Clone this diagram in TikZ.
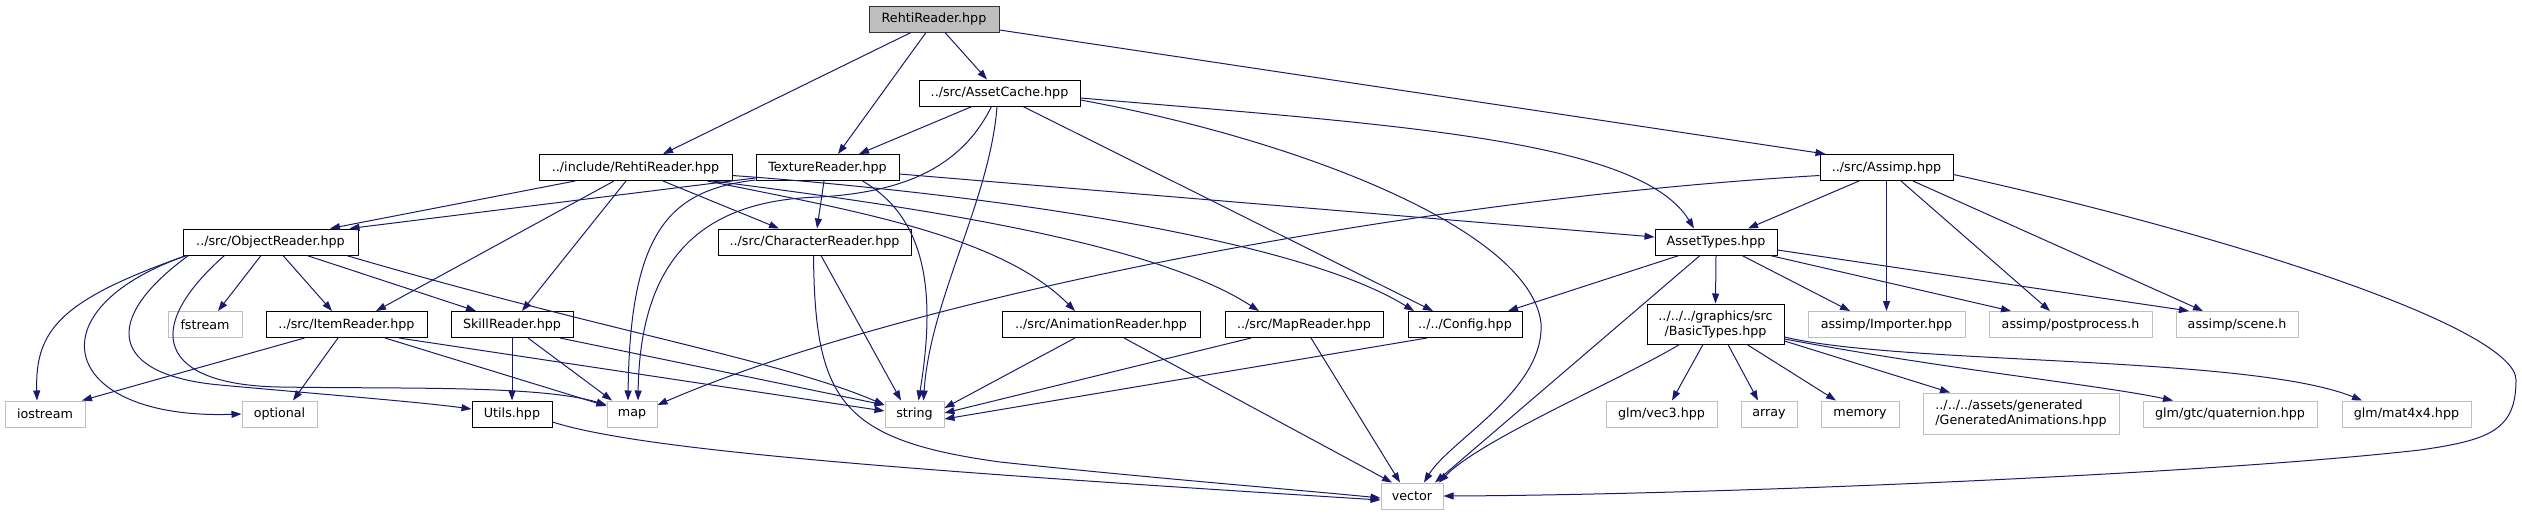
\documentclass[tikz,border=0pt]{standalone}
\usepackage{fontspec}
\usetikzlibrary{arrows.meta}
\newfontfamily\dvs{DejaVu Sans}
\definecolor{edgeblue}{HTML}{191970}
\definecolor{extgray}{HTML}{BFBFBF}
\definecolor{rootgray}{HTML}{BFBFBF}
\tikzset{
  box/.style={draw=black, fill=white, line width=1pt, inner sep=0pt, minimum height=26pt,
    font=\dvs\fontsize{12.7pt}{15pt}\selectfont},
  ext/.style={box, draw=extgray},
  root/.style={box, fill=rootgray, draw=black!80},
  edge/.style={draw=edgeblue, line width=1pt, -{Triangle[length=10pt,width=7pt]}}
}
\begin{document}
\begin{tikzpicture}[x={(1pt,0)}, y={(0,-1pt)}]
\useasboundingbox (0,0) rectangle (2522,515);
% nodes
\node[root, minimum width=130pt] (A) at (934,19) {RehtiReader.hpp};
\node[box, minimum width=161pt] (B) at (999.5,93) {../src/AssetCache.hpp};
\node[box, minimum width=193pt] (C) at (635.5,167.5) {../include/RehtiReader.hpp};
\node[box, minimum width=143pt] (D) at (827.5,167.5) {TextureReader.hpp};
\node[box, minimum width=133pt] (E) at (1886.5,167.5) {../src/Assimp.hpp};
\node[box, minimum width=175pt] (F) at (270.5,242) {../src/ObjectReader.hpp};
\node[box, minimum width=193pt] (G) at (814.5,242) {../src/CharacterReader.hpp};
\node[box, minimum width=122pt] (H) at (1716,242) {AssetTypes.hpp};
\node[ext, minimum width=74pt] (I) at (205,324.5) {fstream};
\node[box, minimum width=161pt] (J) at (346.5,324.5) {../src/ItemReader.hpp};
\node[box, minimum width=122pt] (K) at (512,324.5) {SkillReader.hpp};
\node[box, minimum width=198pt] (L) at (1101,324.5) {../src/AnimationReader.hpp};
\node[box, minimum width=158pt] (M) at (1304,324.5) {../src/MapReader.hpp};
\node[box, minimum width=114pt] (N) at (1465,324.5) {../../Config.hpp};
\node[box, minimum width=137pt, minimum height=40pt, align=center] (O) at (1715.5,324) {../../../graphics/src\\/BasicTypes.hpp};
\node[ext, minimum width=157pt] (P) at (1886.5,324.5) {assimp/Importer.hpp};
\node[ext, minimum width=163pt] (Q) at (2070.5,324.5) {assimp/postprocess.h};
\node[ext, minimum width=122pt] (R) at (2237,324.5) {assimp/scene.h};
\node[ext, minimum width=80pt] (S) at (45,414) {iostream};
\node[ext, minimum width=75pt] (T) at (279.5,414) {optional};
\node[box, minimum width=80pt] (U) at (512,414) {Utils.hpp};
\node[ext, minimum width=50pt] (V) at (632,414) {map};
\node[ext, minimum width=59pt] (W) at (914.5,414) {string};
\node[ext, minimum width=111pt] (X) at (1661.5,414) {glm/vec3.hpp};
\node[ext, minimum width=56pt] (Y) at (1769,414) {array};
\node[ext, minimum width=78pt] (Z) at (1860,414) {memory};
\node[ext, minimum width=196pt, minimum height=41pt, align=left] (AA) at (2021,413.5) {../../../assets/generated\\/GeneratedAnimations.hpp};
\node[ext, minimum width=174pt] (AB) at (2230,414) {glm/gtc/quaternion.hpp};
\node[ext, minimum width=129pt] (AC) at (2406.5,414) {glm/mat4x4.hpp};
\node[ext, minimum width=62pt] (AD) at (1412,496) {vector};
% edges from RehtiReader.hpp
\draw[edge] ([xshift=-23pt]A.south) -- ([xshift=27.5pt]C.north);
\draw[edge] ([xshift=-8pt]A.south) -- ([xshift=10.5pt]D.north);
\draw[edge] ([xshift=11pt]A.south) -- ([xshift=-12.5pt]B.north);
\draw[edge] ([yshift=-11pt]A.east) -- ([xshift=-61pt]E.north);
% AssetCache
\draw[edge] ([xshift=-27.5pt]B.south) -- ([xshift=31.5pt]D.north);
\draw[edge] ([xshift=-8pt]B.south) .. controls (960,170) and (900,192) .. (820,197) .. controls (700,200) and (640,260) .. ([xshift=6pt]V.north);
\draw[edge] ([xshift=-2.5pt]B.south) .. controls (990,200) and (930,300) .. ([xshift=9pt]W.north);
\draw[edge] ([xshift=23.5pt]B.south) -- ([xshift=-32pt]N.north);
\draw[edge] ([yshift=-5pt]B.east) .. controls (1400,125) and (1640,140) .. ([xshift=-22pt]H.north);
\draw[edge] ([yshift=-7pt]B.east) .. controls (1300,140) and (1530,230) .. (1541,323) .. controls (1545,390) and (1450,440) .. ([xshift=12pt]AD.north);
% include/RehtiReader
\draw[edge] ([xshift=-60.5pt]C.south) -- ([xshift=59.5pt]F.north);
\draw[edge] ([xshift=-21.5pt]C.south) -- ([xshift=29.5pt]J.north);
\draw[edge] ([xshift=-9.5pt]C.south) -- ([xshift=10pt]K.north);
\draw[edge] ([xshift=27.5pt]C.south) -- ([xshift=-35.5pt]G.north);
\draw[edge] ([xshift=72pt]C.south) .. controls (850,210) and (1000,235) .. ([xshift=-26pt]L.north);
\draw[edge] ([xshift=77pt]C.south) .. controls (900,205) and (1150,240) .. ([xshift=-45pt]M.north);
\draw[edge] ([yshift=-8pt]C.east) .. controls (1000,195) and (1300,240) .. ([xshift=-51pt]N.north);
% TextureReader
\draw[edge] ([yshift=3pt]D.south west) -- ([xshift=79pt]F.north);
\draw[edge] ([xshift=-3.5pt]D.south) -- ([xshift=2.5pt]G.north);
\draw[edge] ([yshift=-6.5pt]D.east) -- ([yshift=5pt]H.west);
\draw[edge] ([xshift=35pt]D.south) .. controls (930,220) and (935,300) .. ([xshift=4pt]W.north);
\draw[edge] ([yshift=1pt]D.south west) .. controls (670,190) and (630,230) .. ([xshift=-4pt]V.north);
% Assimp
\draw[edge] ([xshift=-27.5pt]E.south) -- ([xshift=32pt]H.north);
\draw[edge] (E.south) -- (P.north);
\draw[edge] ([xshift=14.5pt]E.south) -- ([xshift=-20.5pt]Q.north);
\draw[edge] ([xshift=26.5pt]E.south) -- ([xshift=-34pt]R.north);
\draw[edge] ([yshift=-8pt]E.west) .. controls (1400,200) and (900,300) .. ([yshift=9pt]V.east);
\draw[edge] ([yshift=-7pt]E.east) .. controls (2250,240) and (2516,330) .. (2516,380) .. controls (2516,430) and (2490,440) .. (2420,450) .. controls (2200,475) and (1700,495) .. (AD.east);
% ObjectReader
\draw[edge] ([xshift=-9.5pt]F.south) -- ([xshift=13pt]I.north);
\draw[edge] ([xshift=12.5pt]F.south) -- ([xshift=-14.5pt]J.north);
\draw[edge] ([xshift=36.5pt]F.south) -- ([xshift=-36pt]K.north);
\draw[edge] ([xshift=76pt]F.south) .. controls (600,330) and (780,360) .. ([yshift=9pt]W.west);
\draw[edge] ([xshift=-84pt]F.south) .. controls (60,300) and (35,330) .. ([xshift=-8pt]S.north);
\draw[edge] ([xshift=-84pt]F.south) .. controls (30,310) and (60,420) .. (T.west);
\draw[edge] ([xshift=-82pt]F.south) .. controls (100,320) and (110,375) .. (220,385) .. controls (330,395) and (420,402) .. ([yshift=5pt]U.west);
\draw[edge] ([xshift=-46pt]F.south) .. controls (140,330) and (160,385) .. (280,387) .. controls (400,389) and (540,385) .. ([yshift=9pt]V.west);
% ItemReader
\draw[edge] ([xshift=-42pt]J.south) -- ([xshift=37pt]S.north);
\draw[edge] ([xshift=-8.5pt]J.south) -- ([xshift=13.5pt]T.north);
\draw[edge] ([xshift=38.5pt]J.south) -- ([yshift=8pt]V.west);
\draw[edge] ([xshift=52.5pt]J.south) -- ([yshift=3pt]W.west);
% SkillReader
\draw[edge] (K.south) -- (U.north);
\draw[edge] ([xshift=16pt]K.south) -- ([xshift=-20pt]V.north);
\draw[edge] ([xshift=48pt]K.south) -- ([yshift=9pt]W.west);
% CharacterReader
\draw[edge] ([xshift=6.5pt]G.south) -- ([xshift=-13.5pt]W.north);
\draw[edge] ([xshift=-1pt]G.south) .. controls (815,400) and (840,440) .. (1000,462) .. controls (1150,478) and (1300,490) .. ([yshift=-2pt]AD.west);
% Utils
\draw[edge] ([yshift=-8pt]U.east) .. controls (640,450) and (900,470) .. ([yshift=-4pt]AD.west);
% AnimationReader, MapReader, Config
\draw[edge] ([xshift=-26pt]L.south) -- ([yshift=6pt]W.east);
\draw[edge] ([xshift=23pt]L.south) -- ([xshift=-20pt]AD.north);
\draw[edge] ([xshift=-53pt]M.south) -- ([yshift=1pt]W.east);
\draw[edge] ([xshift=7pt]M.south) -- ([xshift=-12pt]AD.north);
\draw[edge] ([xshift=-38pt]N.south) -- ([yshift=-5pt]W.east);
% AssetTypes
\draw[edge] ([xshift=-37pt]H.south) -- ([xshift=43pt]N.north);
\draw[edge] ([xshift=-16pt]H.south) -- ([xshift=23pt]AD.north);
\draw[edge] (H.south) -- (O.north);
\draw[edge] ([xshift=26pt]H.south) -- ([xshift=-36.5pt]P.north);
\draw[edge] ([xshift=54pt]H.south) -- ([xshift=-59.5pt]Q.north);
\draw[edge] ([yshift=-8pt]H.east) -- ([xshift=-48pt]R.north);
% BasicTypes
\draw[edge] ([xshift=-36pt]O.south) .. controls (1620,380) and (1480,440) .. ([xshift=27pt]AD.north);
\draw[edge] ([xshift=-12.5pt]O.south) -- ([xshift=10.5pt]X.north);
\draw[edge] ([xshift=12.5pt]O.south) -- ([xshift=-11pt]Y.north);
\draw[edge] ([xshift=31.5pt]O.south) -- ([xshift=-24pt]Z.north);
\draw[edge] ([yshift=-17pt]O.east) -- ([xshift=-71pt]AA.north);
\draw[edge] ([yshift=-15pt]O.east) .. controls (1950,370) and (2100,385) .. ([xshift=-57pt]AB.north);
\draw[edge] ([yshift=-13pt]O.east) .. controls (1900,365) and (2250,355) .. ([xshift=-44.5pt]AC.north);
\end{tikzpicture}
\end{document}
